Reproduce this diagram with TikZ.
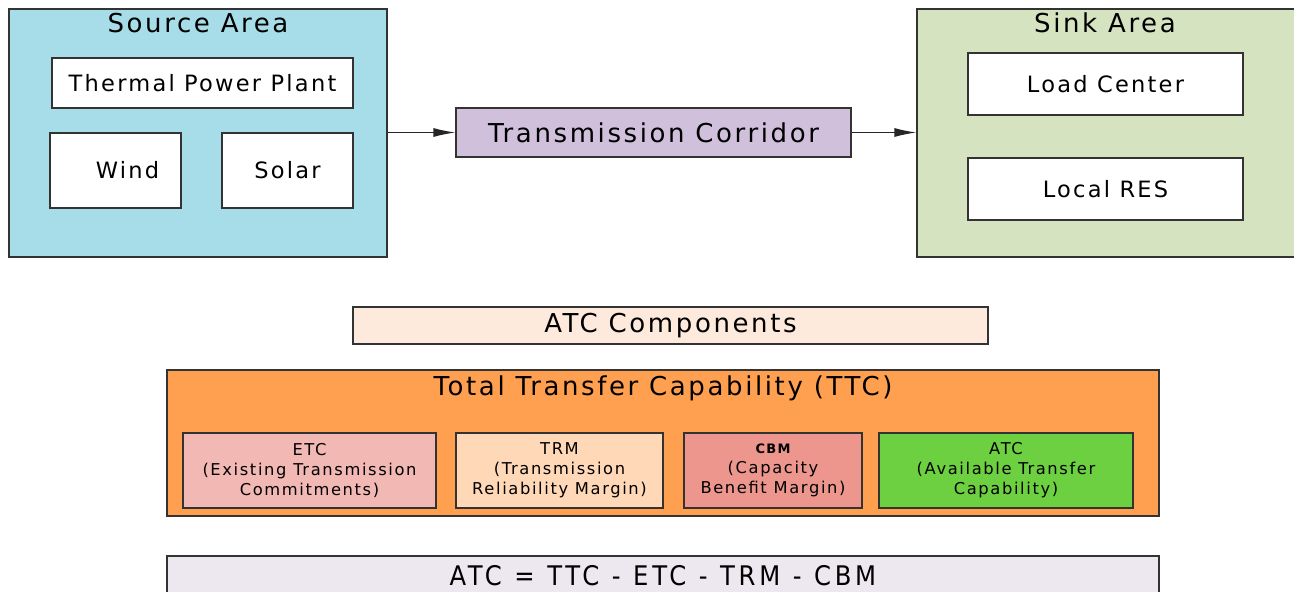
\documentclass[tikz,border=0pt]{standalone}
\usepackage{fontspec}
\setmainfont[LetterSpace=10]{DejaVu Sans}
\newfontfamily\condfont[LetterSpace=14]{DejaVu Sans Condensed}
\usepackage{tikz}
\usetikzlibrary{arrows.meta, positioning}
\definecolor{sourcecyan}{RGB}{166, 221, 232}
\definecolor{sinkgreen}{RGB}{213, 227, 192}
\definecolor{corridorlilac}{RGB}{208, 192, 220}
\definecolor{comppeach}{RGB}{253, 234, 221}
\definecolor{ttcorange}{RGB}{255, 160, 80}
\definecolor{etcrose}{RGB}{242, 184, 180}
\definecolor{trmpeach}{RGB}{255, 216, 184}
\definecolor{cbmsalmon}{RGB}{236, 150, 142}
\definecolor{atcgreen}{RGB}{108, 208, 64}
\definecolor{formulagrey}{RGB}{237, 232, 240}

\begin{document}
\begin{tikzpicture}[x=1pt, y=-1pt,
    box/.style={draw=black!80, line width=1.2pt, inner sep=0pt, align=center},
    leaf/.style={box, fill=white, font=\fontsize{22.5}{26}\selectfont},
    part/.style={box, minimum height=75pt, font=\fontsize{16.3}{20}\selectfont},
    heading/.style={font=\fontsize{26}{30}\selectfont},
    flow/.style={-{Latex[length=22pt, width=9pt]}, line width=1.2pt, black!85}]
  \clip (0,0) rectangle (1294,592);
  % source side
  \node[box, fill=sourcecyan, minimum width=378pt, minimum height=248pt] (src) at (198,133) {};
  \node[heading] (srctitle) at (198,23) {Source Area};
  \node[leaf, minimum width=301pt, minimum height=50pt] (thermal) at (202.5,83) {Thermal Power Plant};
  \node[leaf, minimum width=131pt, minimum height=75pt] (wind) at (115.5,170.5) {\hspace*{24pt}Wind};
  \node[leaf, minimum width=131pt, minimum height=75pt] (solar) at (287.5,170.5) {Solar};
  % corridor
  \node[box, heading, fill=corridorlilac, minimum width=395pt, minimum height=49pt] (corr) at (653.5,132.5) {Transmission Corridor};
  % sink side
  \node[box, fill=sinkgreen, minimum width=380pt, minimum height=248pt] (snk) at (1107,133) {};
  \node[heading] (snktitle) at (1105,23) {Sink Area};
  \node[leaf, minimum width=275pt, minimum height=62pt] (load) at (1105.5,84) {Load Center};
  \node[leaf, minimum width=275pt, minimum height=62pt] (res) at (1105.5,189) {Local RES};
  \draw[flow] (src.east |- corr) -- (corr);
  \draw[flow] (corr) -- (snk.west |- corr);
  % ATC breakdown
  \node[box, heading, fill=comppeach, minimum width=635pt, minimum height=37pt] (comp) at (670.5,325.5) {ATC Components};
  \node[box, fill=ttcorange, minimum width=992pt, minimum height=146pt] (ttc) at (663,443) {};
  \node[heading] (ttctitle) at (663,388) {Total Transfer Capability (TTC)};
  \node[part, fill=etcrose, minimum width=253pt] (etc) at (309.5,470.5) {ETC\\(Existing Transmission\\Commitments)};
  \node[part, fill=trmpeach, minimum width=207pt] (trm) at (559.5,470.5) {TRM\\(Transmission\\Reliability Margin)};
  \node[part, fill=cbmsalmon, minimum width=178pt] (cbm) at (773,470.5) {{\fontsize{13}{16}\selectfont\bfseries CBM}\\(Capacity\\Benefit Margin)};
  \node[part, fill=atcgreen, minimum width=254pt] (atc) at (1006,470.5) {ATC\\(Available Transfer\\Capability)};
  \node[box, fill=formulagrey, minimum width=992pt, minimum height=40pt, font={\condfont\fontsize{27}{30}\selectfont}] (formula) at (663,576) {\spaceskip=12.5pt ATC = TTC - ETC - TRM - CBM};
\end{tikzpicture}
\end{document}
